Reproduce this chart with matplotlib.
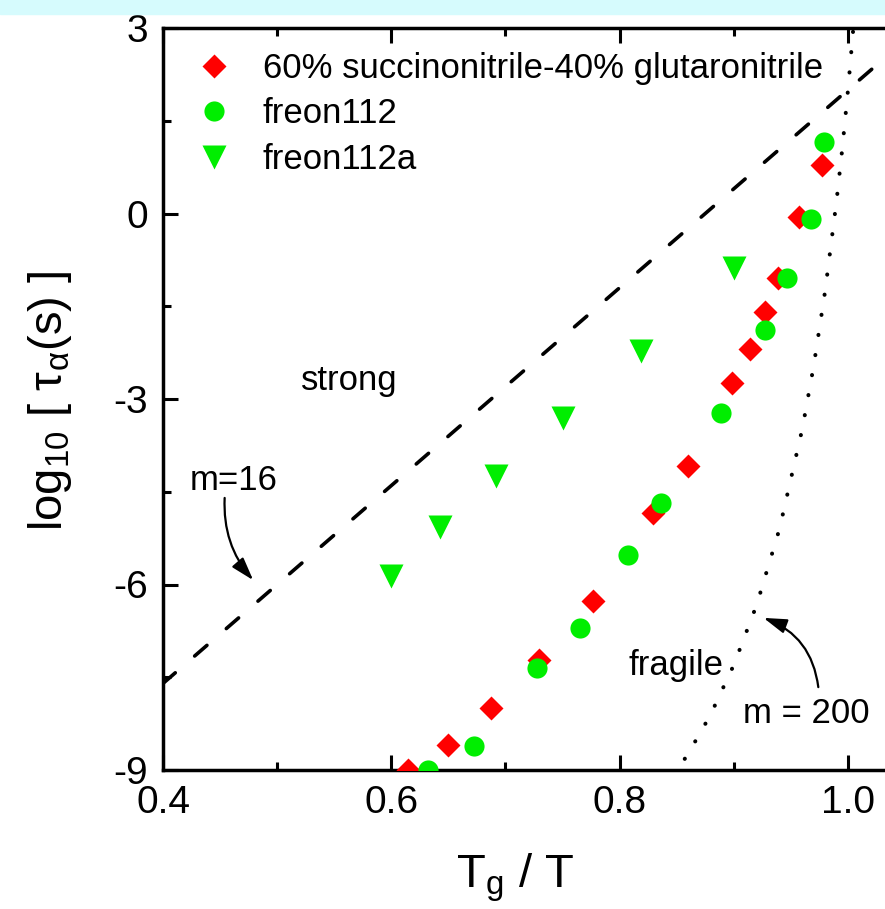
import matplotlib
matplotlib.use("Agg")
import matplotlib.pyplot as plt
from matplotlib.patches import Rectangle

plt.rcParams['font.family'] = ['Liberation Sans', 'DejaVu Sans']
plt.rcParams['mathtext.fontset'] = 'custom'
plt.rcParams['mathtext.rm'] = 'Liberation Sans'
plt.rcParams['axes.unicode_minus'] = False

# 60% succinonitrile-40% glutaronitrile
sg_x = [0.977, 0.957, 0.939, 0.927, 0.914, 0.898, 0.860, 0.829, 0.777, 0.729, 0.687, 0.650, 0.615]
sg_y = [0.78, -0.06, -1.04, -1.59, -2.19, -2.74, -4.08, -4.84, -6.27, -7.22, -8.00, -8.60, -9.00]

# freon112
f112_x = [0.979, 0.968, 0.947, 0.927, 0.889, 0.836, 0.807, 0.765, 0.728, 0.672, 0.632]
f112_y = [1.16, -0.09, -1.04, -1.88, -3.23, -4.68, -5.52, -6.70, -7.35, -8.61, -9.00]

# freon112a
f112a_x = [0.900, 0.819, 0.750, 0.692, 0.643, 0.600]
f112a_y = [-0.88, -2.22, -3.31, -4.25, -5.07, -5.86]

# strong limit (m=16) and fragile limit (m=200)
strong_x = [0.40, 1.06]
strong_y = [-7.60, 2.96]
fragile_x = [0.857, 0.87, 0.88, 0.90, 0.92, 0.94, 0.96, 0.97, 0.98, 0.99, 0.995, 1.0, 1.005]
fragile_y = [-8.82, -8.42, -8.09, -7.30, -6.33, -5.10, -3.48, -2.46, -1.25, 0.21, 1.05, 2.0, 3.07]

labels = ['60% succinonitrile-40% glutaronitrile', 'freon112', 'freon112a']

fig = plt.figure(figsize=(8.85, 9.09), dpi=100)
fig.patches.append(Rectangle((0, 1 - 14 / 909), 1, 14 / 909, transform=fig.transFigure,
                             color='#d6fbfd', zorder=0))
ax = fig.add_axes([163 / 885, 139 / 909, 753.5 / 885, 742 / 909])

ax.plot(strong_x, strong_y, color='k', lw=2.6, dashes=(4.5, 7.1), dash_capstyle='round', zorder=1)
ax.plot(fragile_x, fragile_y, color='k', lw=2.9, dashes=(0.05, 5.0), dash_capstyle='round', zorder=1)

ax.plot(sg_x, sg_y, 'D', color='red', ms=12.5, mec='none', label=labels[0], zorder=3)
ax.plot(f112_x, f112_y, 'o', color='#00ee00', ms=14.5, mec='none', label=labels[1], zorder=4)
ax.plot(f112a_x, f112a_y, 'v', color='#00ee00', ms=17.5, mec='none', label=labels[2], zorder=4)

ax.set_xlim(0.4, 1.06)
ax.set_ylim(-9, 3)
ax.set_xticks([0.4, 0.6, 0.8, 1.0])
ax.set_xticklabels(['0.4', '0.6', '0.8', '1.0'])
ax.set_xticks([0.5, 0.7, 0.9], minor=True)
ax.set_yticks([-9, -6, -3, 0, 3])
ax.set_yticks([-7.5, -4.5, -1.5, 1.5], minor=True)
ax.tick_params(which='both', direction='in', top=True, right=True, width=2.2, labelsize=28, pad=11)
ax.tick_params(which='major', length=11)
ax.tick_params(which='minor', length=6)
for s in ax.spines.values():
    s.set_linewidth(2.5)

ax.set_xlabel(r'T$_\mathregular{g}$ / T', fontsize=34)
ax.xaxis.set_label_coords(0.467, -0.11)
ax.set_ylabel(r'log$_\mathregular{10}$ [ τ$_\mathregular{α}$(s) ]', fontsize=34)
ax.yaxis.set_label_coords(-0.118, 0.497)

ax.text(0.563, -2.855, 'strong', fontsize=25, ha='center', va='baseline')
ax.text(0.423, -4.47, 'm=16', fontsize=25, ha='left', va='baseline')
ax.text(0.808, -7.46, 'fragile', fontsize=25, ha='left', va='baseline')
ax.text(0.908, -8.24, 'm = 200', fontsize=25, ha='left', va='baseline')

arrow = dict(arrowstyle='-|>,head_length=0.7,head_width=0.22', color='k', lw=1.6,
             shrinkA=0, shrinkB=0, mutation_scale=20)
ax.annotate('', xy=(0.479, -5.93), xytext=(0.454, -4.60),
            arrowprops=dict(arrow, connectionstyle='arc3,rad=0.2'))
ax.annotate('', xy=(0.926, -6.54), xytext=(0.974, -7.66),
            arrowprops=dict(arrow, connectionstyle='arc3,rad=0.3'))

ax.legend(loc='upper left', bbox_to_anchor=(0.045, 0.968), frameon=False, fontsize=25,
          handlelength=1.0, handletextpad=0.9, borderpad=0, borderaxespad=0,
          labelspacing=0.36, numpoints=1)

fig.savefig('out.png', dpi=100)
